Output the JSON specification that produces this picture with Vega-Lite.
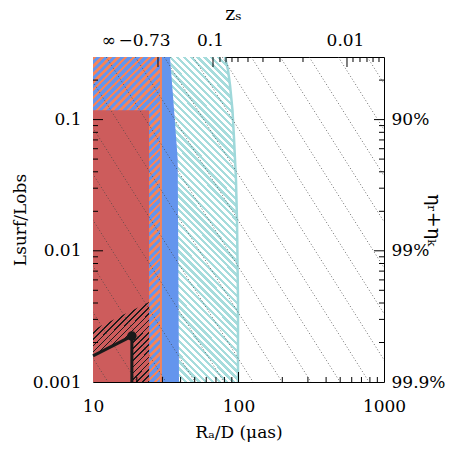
{
  "$schema": "https://vega.github.io/schema/vega-lite/v6.json",
  "width": 291,
  "height": 325,
  "autosize": {"type": "none"},
  "padding": {"left": 93, "top": 57, "right": 66, "bottom": 68},
  "background": "white",
  "config": {
    "view": {"stroke": null},
    "axis": {
      "domainColor": "#000", "domainWidth": 1, "tickColor": "#000", "tickWidth": 1,
      "labelColor": "#000", "titleColor": "#000",
      "labelFont": "DejaVu Serif", "titleFont": "DejaVu Serif",
      "labelFontSize": 17, "titleFontSize": 17, "titleFontWeight": "normal",
      "grid": false, "zindex": 1, "labelFlush": false, "labelOverlap": false, "labelBound": false
    }
  },
  "datasets": {
    "cyanEdge": [
      {"L": 0.3, "R": 80.8}, {"L": 0.2388, "R": 84.7}, {"L": 0.1835, "R": 87.4},
      {"L": 0.1184, "R": 90.9}, {"L": 0.0724, "R": 93.1}, {"L": 0.0346, "R": 96.1},
      {"L": 0.01658, "R": 97.7}, {"L": 0.00422, "R": 99.2}, {"L": 0.001, "R": 99.2}
    ],
    "blueEdge": [
      {"L": 0.3, "R": 33.8}, {"L": 0.15, "R": 35.5}, {"L": 0.05, "R": 38.2}, {"L": 0.001, "R": 39.0}
    ],
    "jetBox": [{"R1": 10, "R2": 29.3, "L1": 0.001, "L2": 0.3}],
    "diskBox": [{"R1": 10, "R2": 24.3, "L1": 0.001, "L2": 0.118}],
    "hatchBox": [
      {"R": 10, "Ltop": 0.00249, "Lbot": 0.00158},
      {"R": 18.5, "Ltop": 0.0035, "Lbot": 0.00224},
      {"R": 18.55, "Ltop": 0.00351, "Lbot": 0.001},
      {"R": 24.3, "Ltop": 0.00407, "Lbot": 0.001}
    ],
    "jetEdge": [{"R": 29.3}],
    "track": [
      {"o": 1, "R": 10, "L": 0.00158},
      {"o": 2, "R": 18.5, "L": 0.00224},
      {"o": 3, "R": 18.5, "L": 0.001}
    ],
    "source": [{"R": 18.5, "L": 0.00224}],
    "contours": [
      {"k": -6, "R": 12.68, "L": 0.001}, {"k": -6, "R": 0.497, "L": 0.3},
      {"k": -5, "R": 20.05, "L": 0.001}, {"k": -5, "R": 0.785, "L": 0.3},
      {"k": -4, "R": 31.77, "L": 0.001}, {"k": -4, "R": 1.245, "L": 0.3},
      {"k": -3, "R": 50.23, "L": 0.001}, {"k": -3, "R": 1.968, "L": 0.3},
      {"k": -2, "R": 79.43, "L": 0.001}, {"k": -2, "R": 3.112, "L": 0.3},
      {"k": -1, "R": 125.9, "L": 0.001}, {"k": -1, "R": 4.93, "L": 0.3},
      {"k": 0, "R": 199.1, "L": 0.001}, {"k": 0, "R": 7.8, "L": 0.3},
      {"k": 1, "R": 314.8, "L": 0.001}, {"k": 1, "R": 12.33, "L": 0.3},
      {"k": 2, "R": 498.9, "L": 0.001}, {"k": 2, "R": 19.54, "L": 0.3},
      {"k": 3, "R": 788.8, "L": 0.001}, {"k": 3, "R": 30.9, "L": 0.3},
      {"k": 4, "R": 1247, "L": 0.001}, {"k": 4, "R": 48.87, "L": 0.3},
      {"k": 5, "R": 1977, "L": 0.001}, {"k": 5, "R": 77.45, "L": 0.3},
      {"k": 6, "R": 3126, "L": 0.001}, {"k": 6, "R": 122.5, "L": 0.3},
      {"k": 7, "R": 4943, "L": 0.001}, {"k": 7, "R": 193.6, "L": 0.3},
      {"k": 8, "R": 7816, "L": 0.001}, {"k": 8, "R": 306.2, "L": 0.3},
      {"k": 9, "R": 12388, "L": 0.001}, {"k": 9, "R": 485.3, "L": 0.3},
      {"k": 10, "R": 19588, "L": 0.001}, {"k": 10, "R": 767.4, "L": 0.3}
    ],
    "rMajor": [{"R": 100}],
    "rMinor": [{"R": 20}, {"R": 30}, {"R": 40}, {"R": 50}, {"R": 60}, {"R": 70}, {"R": 80}, {"R": 90},
               {"R": 200}, {"R": 300}, {"R": 400}, {"R": 500}, {"R": 600}, {"R": 700}, {"R": 800}, {"R": 900}],
    "zMajor": [{"R": 27.97}, {"R": 66.8}, {"R": 556.8}],
    "zMinor": [{"R": 74.6}, {"R": 82.1}, {"R": 90.2}, {"R": 99.2}, {"R": 116.2}, {"R": 147.3}, {"R": 192.8},
               {"R": 277.5}, {"R": 612.2}, {"R": 683.9}, {"R": 764.1}, {"R": 840.5}, {"R": 923.8}],
    "lMajor": [{"L": 0.01}, {"L": 0.1}],
    "lMinor": [{"L": 0.002}, {"L": 0.003}, {"L": 0.004}, {"L": 0.005}, {"L": 0.006}, {"L": 0.007}, {"L": 0.008}, {"L": 0.009},
               {"L": 0.02}, {"L": 0.03}, {"L": 0.04}, {"L": 0.05}, {"L": 0.06}, {"L": 0.07}, {"L": 0.08}, {"L": 0.09},
               {"L": 0.2}]
  },
  "resolve": {"axis": {"x": "independent", "y": "independent"}},
  "layer": [
    {
      "data": {"name": "cyanEdge"},
      "mark": {
        "type": "area", "orient": "horizontal",
        "fill": {
          "gradient": "linear", "x1": 0, "y1": 1, "x2": 0.2424, "y2": -0.1586,
          "stops": [
            {"offset":0,"color":"#a6dcdc"},{"offset":0.0085,"color":"#a6dcdc"},{"offset":0.0085,"color":"#fff"},{"offset":0.0175,"color":"#fff"},
            {"offset":0.0175,"color":"#a6dcdc"},{"offset":0.026,"color":"#a6dcdc"},{"offset":0.026,"color":"#fff"},{"offset":0.035,"color":"#fff"},
            {"offset":0.035,"color":"#a6dcdc"},{"offset":0.0435,"color":"#a6dcdc"},{"offset":0.0435,"color":"#fff"},{"offset":0.0525,"color":"#fff"},
            {"offset":0.0525,"color":"#a6dcdc"},{"offset":0.061,"color":"#a6dcdc"},{"offset":0.061,"color":"#fff"},{"offset":0.07,"color":"#fff"},
            {"offset":0.07,"color":"#a6dcdc"},{"offset":0.0785,"color":"#a6dcdc"},{"offset":0.0785,"color":"#fff"},{"offset":0.0875,"color":"#fff"},
            {"offset":0.0875,"color":"#a6dcdc"},{"offset":0.096,"color":"#a6dcdc"},{"offset":0.096,"color":"#fff"},{"offset":0.105,"color":"#fff"},
            {"offset":0.105,"color":"#a6dcdc"},{"offset":0.1135,"color":"#a6dcdc"},{"offset":0.1135,"color":"#fff"},{"offset":0.1225,"color":"#fff"},
            {"offset":0.1225,"color":"#a6dcdc"},{"offset":0.131,"color":"#a6dcdc"},{"offset":0.131,"color":"#fff"},{"offset":0.14,"color":"#fff"},
            {"offset":0.14,"color":"#a6dcdc"},{"offset":0.1485,"color":"#a6dcdc"},{"offset":0.1485,"color":"#fff"},{"offset":0.1575,"color":"#fff"},
            {"offset":0.1575,"color":"#a6dcdc"},{"offset":0.166,"color":"#a6dcdc"},{"offset":0.166,"color":"#fff"},{"offset":0.175,"color":"#fff"},
            {"offset":0.175,"color":"#a6dcdc"},{"offset":0.1835,"color":"#a6dcdc"},{"offset":0.1835,"color":"#fff"},{"offset":0.1925,"color":"#fff"},
            {"offset":0.1925,"color":"#a6dcdc"},{"offset":0.201,"color":"#a6dcdc"},{"offset":0.201,"color":"#fff"},{"offset":0.21,"color":"#fff"},
            {"offset":0.21,"color":"#a6dcdc"},{"offset":0.2185,"color":"#a6dcdc"},{"offset":0.2185,"color":"#fff"},{"offset":0.2275,"color":"#fff"},
            {"offset":0.2275,"color":"#a6dcdc"},{"offset":0.236,"color":"#a6dcdc"},{"offset":0.236,"color":"#fff"},{"offset":0.245,"color":"#fff"},
            {"offset":0.245,"color":"#a6dcdc"},{"offset":0.2535,"color":"#a6dcdc"},{"offset":0.2535,"color":"#fff"},{"offset":0.2625,"color":"#fff"},
            {"offset":0.2625,"color":"#a6dcdc"},{"offset":0.271,"color":"#a6dcdc"},{"offset":0.271,"color":"#fff"},{"offset":0.28,"color":"#fff"},
            {"offset":0.28,"color":"#a6dcdc"},{"offset":0.2885,"color":"#a6dcdc"},{"offset":0.2885,"color":"#fff"},{"offset":0.2975,"color":"#fff"},
            {"offset":0.2975,"color":"#a6dcdc"},{"offset":0.306,"color":"#a6dcdc"},{"offset":0.306,"color":"#fff"},{"offset":0.315,"color":"#fff"},
            {"offset":0.315,"color":"#a6dcdc"},{"offset":0.3235,"color":"#a6dcdc"},{"offset":0.3235,"color":"#fff"},{"offset":0.3325,"color":"#fff"},
            {"offset":0.3325,"color":"#a6dcdc"},{"offset":0.341,"color":"#a6dcdc"},{"offset":0.341,"color":"#fff"},{"offset":0.35,"color":"#fff"},
            {"offset":0.35,"color":"#a6dcdc"},{"offset":0.3585,"color":"#a6dcdc"},{"offset":0.3585,"color":"#fff"},{"offset":0.3675,"color":"#fff"},
            {"offset":0.3675,"color":"#a6dcdc"},{"offset":0.376,"color":"#a6dcdc"},{"offset":0.376,"color":"#fff"},{"offset":0.385,"color":"#fff"},
            {"offset":0.385,"color":"#a6dcdc"},{"offset":0.3935,"color":"#a6dcdc"},{"offset":0.3935,"color":"#fff"},{"offset":0.4025,"color":"#fff"},
            {"offset":0.4025,"color":"#a6dcdc"},{"offset":0.411,"color":"#a6dcdc"},{"offset":0.411,"color":"#fff"},{"offset":0.42,"color":"#fff"},
            {"offset":0.42,"color":"#a6dcdc"},{"offset":0.4285,"color":"#a6dcdc"},{"offset":0.4285,"color":"#fff"},{"offset":0.4375,"color":"#fff"},
            {"offset":0.4375,"color":"#a6dcdc"},{"offset":0.446,"color":"#a6dcdc"},{"offset":0.446,"color":"#fff"},{"offset":0.455,"color":"#fff"},
            {"offset":0.455,"color":"#a6dcdc"},{"offset":0.4635,"color":"#a6dcdc"},{"offset":0.4635,"color":"#fff"},{"offset":0.4725,"color":"#fff"},
            {"offset":0.4725,"color":"#a6dcdc"},{"offset":0.481,"color":"#a6dcdc"},{"offset":0.481,"color":"#fff"},{"offset":0.49,"color":"#fff"},
            {"offset":0.49,"color":"#a6dcdc"},{"offset":0.4985,"color":"#a6dcdc"},{"offset":0.4985,"color":"#fff"},{"offset":0.5075,"color":"#fff"},
            {"offset":0.5075,"color":"#a6dcdc"},{"offset":0.516,"color":"#a6dcdc"},{"offset":0.516,"color":"#fff"},{"offset":0.525,"color":"#fff"},
            {"offset":0.525,"color":"#a6dcdc"},{"offset":0.5335,"color":"#a6dcdc"},{"offset":0.5335,"color":"#fff"},{"offset":0.5425,"color":"#fff"},
            {"offset":0.5425,"color":"#a6dcdc"},{"offset":0.551,"color":"#a6dcdc"},{"offset":0.551,"color":"#fff"},{"offset":0.56,"color":"#fff"},
            {"offset":0.56,"color":"#a6dcdc"},{"offset":0.5685,"color":"#a6dcdc"},{"offset":0.5685,"color":"#fff"},{"offset":0.5775,"color":"#fff"},
            {"offset":0.5775,"color":"#a6dcdc"},{"offset":0.586,"color":"#a6dcdc"},{"offset":0.586,"color":"#fff"},{"offset":0.595,"color":"#fff"},
            {"offset":0.595,"color":"#a6dcdc"},{"offset":0.6035,"color":"#a6dcdc"},{"offset":0.6035,"color":"#fff"},{"offset":0.6125,"color":"#fff"},
            {"offset":0.6125,"color":"#a6dcdc"},{"offset":0.621,"color":"#a6dcdc"},{"offset":0.621,"color":"#fff"},{"offset":0.63,"color":"#fff"},
            {"offset":0.63,"color":"#a6dcdc"},{"offset":0.6385,"color":"#a6dcdc"},{"offset":0.6385,"color":"#fff"},{"offset":0.6475,"color":"#fff"},
            {"offset":0.6475,"color":"#a6dcdc"},{"offset":0.656,"color":"#a6dcdc"},{"offset":0.656,"color":"#fff"},{"offset":0.665,"color":"#fff"},
            {"offset":0.665,"color":"#a6dcdc"},{"offset":0.6735,"color":"#a6dcdc"},{"offset":0.6735,"color":"#fff"},{"offset":0.6825,"color":"#fff"},
            {"offset":0.6825,"color":"#a6dcdc"},{"offset":0.691,"color":"#a6dcdc"},{"offset":0.691,"color":"#fff"},{"offset":0.7,"color":"#fff"},
            {"offset":0.7,"color":"#a6dcdc"},{"offset":0.7085,"color":"#a6dcdc"},{"offset":0.7085,"color":"#fff"},{"offset":0.7175,"color":"#fff"},
            {"offset":0.7175,"color":"#a6dcdc"},{"offset":0.726,"color":"#a6dcdc"},{"offset":0.726,"color":"#fff"},{"offset":0.735,"color":"#fff"},
            {"offset":0.735,"color":"#a6dcdc"},{"offset":0.7435,"color":"#a6dcdc"},{"offset":0.7435,"color":"#fff"},{"offset":0.7525,"color":"#fff"},
            {"offset":0.7525,"color":"#a6dcdc"},{"offset":0.761,"color":"#a6dcdc"},{"offset":0.761,"color":"#fff"},{"offset":0.77,"color":"#fff"},
            {"offset":0.77,"color":"#a6dcdc"},{"offset":0.7785,"color":"#a6dcdc"},{"offset":0.7785,"color":"#fff"},{"offset":0.7875,"color":"#fff"},
            {"offset":0.7875,"color":"#a6dcdc"},{"offset":0.796,"color":"#a6dcdc"},{"offset":0.796,"color":"#fff"},{"offset":0.805,"color":"#fff"},
            {"offset":0.805,"color":"#a6dcdc"},{"offset":0.8135,"color":"#a6dcdc"},{"offset":0.8135,"color":"#fff"},{"offset":0.8225,"color":"#fff"},
            {"offset":0.8225,"color":"#a6dcdc"},{"offset":0.831,"color":"#a6dcdc"},{"offset":0.831,"color":"#fff"},{"offset":0.84,"color":"#fff"},
            {"offset":0.84,"color":"#a6dcdc"},{"offset":0.8485,"color":"#a6dcdc"},{"offset":0.8485,"color":"#fff"},{"offset":0.8575,"color":"#fff"},
            {"offset":0.8575,"color":"#a6dcdc"},{"offset":0.866,"color":"#a6dcdc"},{"offset":0.866,"color":"#fff"},{"offset":0.875,"color":"#fff"},
            {"offset":0.875,"color":"#a6dcdc"},{"offset":0.8835,"color":"#a6dcdc"},{"offset":0.8835,"color":"#fff"},{"offset":0.8925,"color":"#fff"},
            {"offset":0.8925,"color":"#a6dcdc"},{"offset":0.901,"color":"#a6dcdc"},{"offset":0.901,"color":"#fff"},{"offset":0.91,"color":"#fff"},
            {"offset":0.91,"color":"#a6dcdc"},{"offset":0.9185,"color":"#a6dcdc"},{"offset":0.9185,"color":"#fff"},{"offset":0.9275,"color":"#fff"},
            {"offset":0.9275,"color":"#a6dcdc"},{"offset":0.936,"color":"#a6dcdc"},{"offset":0.936,"color":"#fff"},{"offset":0.945,"color":"#fff"},
            {"offset":0.945,"color":"#a6dcdc"},{"offset":0.9535,"color":"#a6dcdc"},{"offset":0.9535,"color":"#fff"},{"offset":0.9625,"color":"#fff"},
            {"offset":0.9625,"color":"#a6dcdc"},{"offset":0.971,"color":"#a6dcdc"},{"offset":0.971,"color":"#fff"},{"offset":0.98,"color":"#fff"},
            {"offset":0.98,"color":"#a6dcdc"},{"offset":0.9885,"color":"#a6dcdc"},{"offset":0.9885,"color":"#fff"},{"offset":0.9975,"color":"#fff"},
            {"offset":0.9975,"color":"#a6dcdc"},{"offset":1,"color":"#a6dcdc"}
          ]
        }
      },
      "encoding": {
        "y": {"field": "L", "type": "quantitative", "scale": {"type": "log", "domain": [0.001, 0.3], "nice": false},
              "axis": {"orient": "left", "values": [0.001, 0.01, 0.1], "format": "~g", "ticks": false, "labelPadding": 12,
                       "title": "Lsurf/Lobs", "titleX": -73, "titleY": 162.5, "titleAngle": 270, "titleBaseline": "middle", "titleAlign": "center"}},
        "x": {"field": "R", "type": "quantitative", "scale": {"type": "log", "domain": [10, 1000], "nice": false},
              "axis": {"orient": "bottom", "values": [10, 100, 1000], "format": "d", "ticks": false, "labelPadding": 16,
                       "title": "Rₐ/D (μas)", "titleX": 145.5, "titleY": 50, "titleBaseline": "middle", "titleAlign": "center"}},
        "x2": {"datum": 34}
      }
    },
    {
      "data": {"name": "blueEdge"},
      "mark": {"type": "area", "orient": "horizontal", "color": "#6495ed"},
      "encoding": {
        "y": {"field": "L", "type": "quantitative", "scale": {"type": "log", "domain": [0.001, 0.3], "nice": false}, "axis": null},
        "x": {"field": "R", "type": "quantitative", "scale": {"type": "log", "domain": [10, 1000], "nice": false}, "axis": null},
        "x2": {"datum": 10}
      }
    },
    {
      "data": {"name": "jetBox"},
      "mark": {
        "type": "rect",
        "fill": {
          "gradient": "linear", "x1": 0, "y1": 0, "x2": 0.242, "y2": 1.1584,
          "stops": [
            {"offset":0,"color":"#f5845a"},{"offset":0.009,"color":"#f5845a"},{"offset":0.009,"color":"#6495ed"},{"offset":0.02,"color":"#6495ed"},
            {"offset":0.02,"color":"#f5845a"},{"offset":0.029,"color":"#f5845a"},{"offset":0.029,"color":"#6495ed"},{"offset":0.04,"color":"#6495ed"},
            {"offset":0.04,"color":"#f5845a"},{"offset":0.049,"color":"#f5845a"},{"offset":0.049,"color":"#6495ed"},{"offset":0.06,"color":"#6495ed"},
            {"offset":0.06,"color":"#f5845a"},{"offset":0.069,"color":"#f5845a"},{"offset":0.069,"color":"#6495ed"},{"offset":0.08,"color":"#6495ed"},
            {"offset":0.08,"color":"#f5845a"},{"offset":0.089,"color":"#f5845a"},{"offset":0.089,"color":"#6495ed"},{"offset":0.1,"color":"#6495ed"},
            {"offset":0.1,"color":"#f5845a"},{"offset":0.109,"color":"#f5845a"},{"offset":0.109,"color":"#6495ed"},{"offset":0.12,"color":"#6495ed"},
            {"offset":0.12,"color":"#f5845a"},{"offset":0.129,"color":"#f5845a"},{"offset":0.129,"color":"#6495ed"},{"offset":0.14,"color":"#6495ed"},
            {"offset":0.14,"color":"#f5845a"},{"offset":0.149,"color":"#f5845a"},{"offset":0.149,"color":"#6495ed"},{"offset":0.16,"color":"#6495ed"},
            {"offset":0.16,"color":"#f5845a"},{"offset":0.169,"color":"#f5845a"},{"offset":0.169,"color":"#6495ed"},{"offset":0.18,"color":"#6495ed"},
            {"offset":0.18,"color":"#f5845a"},{"offset":0.189,"color":"#f5845a"},{"offset":0.189,"color":"#6495ed"},{"offset":0.2,"color":"#6495ed"},
            {"offset":0.2,"color":"#f5845a"},{"offset":0.209,"color":"#f5845a"},{"offset":0.209,"color":"#6495ed"},{"offset":0.22,"color":"#6495ed"},
            {"offset":0.22,"color":"#f5845a"},{"offset":0.229,"color":"#f5845a"},{"offset":0.229,"color":"#6495ed"},{"offset":0.24,"color":"#6495ed"},
            {"offset":0.24,"color":"#f5845a"},{"offset":0.249,"color":"#f5845a"},{"offset":0.249,"color":"#6495ed"},{"offset":0.26,"color":"#6495ed"},
            {"offset":0.26,"color":"#f5845a"},{"offset":0.269,"color":"#f5845a"},{"offset":0.269,"color":"#6495ed"},{"offset":0.28,"color":"#6495ed"},
            {"offset":0.28,"color":"#f5845a"},{"offset":0.289,"color":"#f5845a"},{"offset":0.289,"color":"#6495ed"},{"offset":0.3,"color":"#6495ed"},
            {"offset":0.3,"color":"#f5845a"},{"offset":0.309,"color":"#f5845a"},{"offset":0.309,"color":"#6495ed"},{"offset":0.32,"color":"#6495ed"},
            {"offset":0.32,"color":"#f5845a"},{"offset":0.329,"color":"#f5845a"},{"offset":0.329,"color":"#6495ed"},{"offset":0.34,"color":"#6495ed"},
            {"offset":0.34,"color":"#f5845a"},{"offset":0.349,"color":"#f5845a"},{"offset":0.349,"color":"#6495ed"},{"offset":0.36,"color":"#6495ed"},
            {"offset":0.36,"color":"#f5845a"},{"offset":0.369,"color":"#f5845a"},{"offset":0.369,"color":"#6495ed"},{"offset":0.38,"color":"#6495ed"},
            {"offset":0.38,"color":"#f5845a"},{"offset":0.389,"color":"#f5845a"},{"offset":0.389,"color":"#6495ed"},{"offset":0.4,"color":"#6495ed"},
            {"offset":0.4,"color":"#f5845a"},{"offset":0.409,"color":"#f5845a"},{"offset":0.409,"color":"#6495ed"},{"offset":0.42,"color":"#6495ed"},
            {"offset":0.42,"color":"#f5845a"},{"offset":0.429,"color":"#f5845a"},{"offset":0.429,"color":"#6495ed"},{"offset":0.44,"color":"#6495ed"},
            {"offset":0.44,"color":"#f5845a"},{"offset":0.449,"color":"#f5845a"},{"offset":0.449,"color":"#6495ed"},{"offset":0.46,"color":"#6495ed"},
            {"offset":0.46,"color":"#f5845a"},{"offset":0.469,"color":"#f5845a"},{"offset":0.469,"color":"#6495ed"},{"offset":0.48,"color":"#6495ed"},
            {"offset":0.48,"color":"#f5845a"},{"offset":0.489,"color":"#f5845a"},{"offset":0.489,"color":"#6495ed"},{"offset":0.5,"color":"#6495ed"},
            {"offset":0.5,"color":"#f5845a"},{"offset":0.509,"color":"#f5845a"},{"offset":0.509,"color":"#6495ed"},{"offset":0.52,"color":"#6495ed"},
            {"offset":0.52,"color":"#f5845a"},{"offset":0.529,"color":"#f5845a"},{"offset":0.529,"color":"#6495ed"},{"offset":0.54,"color":"#6495ed"},
            {"offset":0.54,"color":"#f5845a"},{"offset":0.549,"color":"#f5845a"},{"offset":0.549,"color":"#6495ed"},{"offset":0.56,"color":"#6495ed"},
            {"offset":0.56,"color":"#f5845a"},{"offset":0.569,"color":"#f5845a"},{"offset":0.569,"color":"#6495ed"},{"offset":0.58,"color":"#6495ed"},
            {"offset":0.58,"color":"#f5845a"},{"offset":0.589,"color":"#f5845a"},{"offset":0.589,"color":"#6495ed"},{"offset":0.6,"color":"#6495ed"},
            {"offset":0.6,"color":"#f5845a"},{"offset":0.609,"color":"#f5845a"},{"offset":0.609,"color":"#6495ed"},{"offset":0.62,"color":"#6495ed"},
            {"offset":0.62,"color":"#f5845a"},{"offset":0.629,"color":"#f5845a"},{"offset":0.629,"color":"#6495ed"},{"offset":0.64,"color":"#6495ed"},
            {"offset":0.64,"color":"#f5845a"},{"offset":0.649,"color":"#f5845a"},{"offset":0.649,"color":"#6495ed"},{"offset":0.66,"color":"#6495ed"},
            {"offset":0.66,"color":"#f5845a"},{"offset":0.669,"color":"#f5845a"},{"offset":0.669,"color":"#6495ed"},{"offset":0.68,"color":"#6495ed"},
            {"offset":0.68,"color":"#f5845a"},{"offset":0.689,"color":"#f5845a"},{"offset":0.689,"color":"#6495ed"},{"offset":0.7,"color":"#6495ed"},
            {"offset":0.7,"color":"#f5845a"},{"offset":0.709,"color":"#f5845a"},{"offset":0.709,"color":"#6495ed"},{"offset":0.72,"color":"#6495ed"},
            {"offset":0.72,"color":"#f5845a"},{"offset":0.729,"color":"#f5845a"},{"offset":0.729,"color":"#6495ed"},{"offset":0.74,"color":"#6495ed"},
            {"offset":0.74,"color":"#f5845a"},{"offset":0.749,"color":"#f5845a"},{"offset":0.749,"color":"#6495ed"},{"offset":0.76,"color":"#6495ed"},
            {"offset":0.76,"color":"#f5845a"},{"offset":0.769,"color":"#f5845a"},{"offset":0.769,"color":"#6495ed"},{"offset":0.78,"color":"#6495ed"},
            {"offset":0.78,"color":"#f5845a"},{"offset":0.789,"color":"#f5845a"},{"offset":0.789,"color":"#6495ed"},{"offset":0.8,"color":"#6495ed"},
            {"offset":0.8,"color":"#f5845a"},{"offset":0.809,"color":"#f5845a"},{"offset":0.809,"color":"#6495ed"},{"offset":0.82,"color":"#6495ed"},
            {"offset":0.82,"color":"#f5845a"},{"offset":0.829,"color":"#f5845a"},{"offset":0.829,"color":"#6495ed"},{"offset":0.84,"color":"#6495ed"},
            {"offset":0.84,"color":"#f5845a"},{"offset":0.849,"color":"#f5845a"},{"offset":0.849,"color":"#6495ed"},{"offset":0.86,"color":"#6495ed"},
            {"offset":0.86,"color":"#f5845a"},{"offset":0.869,"color":"#f5845a"},{"offset":0.869,"color":"#6495ed"},{"offset":0.88,"color":"#6495ed"},
            {"offset":0.88,"color":"#f5845a"},{"offset":0.889,"color":"#f5845a"},{"offset":0.889,"color":"#6495ed"},{"offset":0.9,"color":"#6495ed"},
            {"offset":0.9,"color":"#f5845a"},{"offset":0.909,"color":"#f5845a"},{"offset":0.909,"color":"#6495ed"},{"offset":0.92,"color":"#6495ed"},
            {"offset":0.92,"color":"#f5845a"},{"offset":0.929,"color":"#f5845a"},{"offset":0.929,"color":"#6495ed"},{"offset":0.94,"color":"#6495ed"},
            {"offset":0.94,"color":"#f5845a"},{"offset":0.949,"color":"#f5845a"},{"offset":0.949,"color":"#6495ed"},{"offset":0.96,"color":"#6495ed"},
            {"offset":0.96,"color":"#f5845a"},{"offset":0.969,"color":"#f5845a"},{"offset":0.969,"color":"#6495ed"},{"offset":0.98,"color":"#6495ed"},
            {"offset":0.98,"color":"#f5845a"},{"offset":0.989,"color":"#f5845a"},{"offset":0.989,"color":"#6495ed"},{"offset":1,"color":"#6495ed"}
          ]
        }
      },
      "encoding": {
        "x": {"field": "R1", "type": "quantitative", "scale": {"type": "log", "domain": [10, 1000], "nice": false},
              "axis": {"orient": "top", "values": [12.68, 22.4, 63.7, 539.5],
                       "labelExpr": "datum.value < 15 ? '∞' : datum.value < 30 ? '−0.73' : datum.value < 100 ? '0.1' : '0.01'",
                       "ticks": false, "labelPadding": 8, "title": "zₛ", "titleFontSize": 19, "titleX": 140, "titleY": -44, "titleBaseline": "middle", "titleAlign": "center"}},
        "x2": {"field": "R2"},
        "y": {"field": "L1", "type": "quantitative", "scale": {"type": "log", "domain": [0.001, 0.3], "nice": false},
              "axis": {"orient": "right", "values": [0.001, 0.01, 0.1],
                       "labelExpr": "datum.value > 0.05 ? '90%' : datum.value > 0.005 ? '99%' : '99.9%'",
                       "ticks": false, "labelPadding": 7, "title": "ηᵣ+ηₖ", "titleFontSize": 19, "titleX": 49, "titleY": 162.5, "titleAngle": 90, "titleBaseline": "middle", "titleAlign": "center"}},
        "y2": {"field": "L2"}
      }
    },
    {
      "data": {"name": "diskBox"},
      "mark": {"type": "rect", "color": "#cd5c5c"},
      "encoding": {
        "x": {"field": "R1", "type": "quantitative", "scale": {"type": "log", "domain": [10, 1000], "nice": false}, "axis": null},
        "x2": {"field": "R2"},
        "y": {"field": "L1", "type": "quantitative", "scale": {"type": "log", "domain": [0.001, 0.3], "nice": false}, "axis": null},
        "y2": {"field": "L2"}
      }
    },
    {
      "data": {"name": "hatchBox"},
      "mark": {
        "type": "area",
        "fill": {
          "gradient": "linear", "x1": 0, "y1": 0, "x2": 0.8093, "y2": 1.1358,
          "stops": [
            {"offset":0,"color":"#1a1a1a"},{"offset":0.012,"color":"#1a1a1a"},{"offset":0.012,"color":"#cd5c5c"},{"offset":0.045,"color":"#cd5c5c"},
            {"offset":0.045,"color":"#1a1a1a"},{"offset":0.057,"color":"#1a1a1a"},{"offset":0.057,"color":"#cd5c5c"},{"offset":0.09,"color":"#cd5c5c"},
            {"offset":0.09,"color":"#1a1a1a"},{"offset":0.102,"color":"#1a1a1a"},{"offset":0.102,"color":"#cd5c5c"},{"offset":0.135,"color":"#cd5c5c"},
            {"offset":0.135,"color":"#1a1a1a"},{"offset":0.147,"color":"#1a1a1a"},{"offset":0.147,"color":"#cd5c5c"},{"offset":0.18,"color":"#cd5c5c"},
            {"offset":0.18,"color":"#1a1a1a"},{"offset":0.192,"color":"#1a1a1a"},{"offset":0.192,"color":"#cd5c5c"},{"offset":0.225,"color":"#cd5c5c"},
            {"offset":0.225,"color":"#1a1a1a"},{"offset":0.237,"color":"#1a1a1a"},{"offset":0.237,"color":"#cd5c5c"},{"offset":0.27,"color":"#cd5c5c"},
            {"offset":0.27,"color":"#1a1a1a"},{"offset":0.282,"color":"#1a1a1a"},{"offset":0.282,"color":"#cd5c5c"},{"offset":0.315,"color":"#cd5c5c"},
            {"offset":0.315,"color":"#1a1a1a"},{"offset":0.327,"color":"#1a1a1a"},{"offset":0.327,"color":"#cd5c5c"},{"offset":0.36,"color":"#cd5c5c"},
            {"offset":0.36,"color":"#1a1a1a"},{"offset":0.372,"color":"#1a1a1a"},{"offset":0.372,"color":"#cd5c5c"},{"offset":0.405,"color":"#cd5c5c"},
            {"offset":0.405,"color":"#1a1a1a"},{"offset":0.417,"color":"#1a1a1a"},{"offset":0.417,"color":"#cd5c5c"},{"offset":0.45,"color":"#cd5c5c"},
            {"offset":0.45,"color":"#1a1a1a"},{"offset":0.462,"color":"#1a1a1a"},{"offset":0.462,"color":"#cd5c5c"},{"offset":0.495,"color":"#cd5c5c"},
            {"offset":0.495,"color":"#1a1a1a"},{"offset":0.507,"color":"#1a1a1a"},{"offset":0.507,"color":"#cd5c5c"},{"offset":0.54,"color":"#cd5c5c"},
            {"offset":0.54,"color":"#1a1a1a"},{"offset":0.552,"color":"#1a1a1a"},{"offset":0.552,"color":"#cd5c5c"},{"offset":0.585,"color":"#cd5c5c"},
            {"offset":0.585,"color":"#1a1a1a"},{"offset":0.597,"color":"#1a1a1a"},{"offset":0.597,"color":"#cd5c5c"},{"offset":0.63,"color":"#cd5c5c"},
            {"offset":0.63,"color":"#1a1a1a"},{"offset":0.642,"color":"#1a1a1a"},{"offset":0.642,"color":"#cd5c5c"},{"offset":0.675,"color":"#cd5c5c"},
            {"offset":0.675,"color":"#1a1a1a"},{"offset":0.687,"color":"#1a1a1a"},{"offset":0.687,"color":"#cd5c5c"},{"offset":0.72,"color":"#cd5c5c"},
            {"offset":0.72,"color":"#1a1a1a"},{"offset":0.732,"color":"#1a1a1a"},{"offset":0.732,"color":"#cd5c5c"},{"offset":0.765,"color":"#cd5c5c"},
            {"offset":0.765,"color":"#1a1a1a"},{"offset":0.777,"color":"#1a1a1a"},{"offset":0.777,"color":"#cd5c5c"},{"offset":0.81,"color":"#cd5c5c"},
            {"offset":0.81,"color":"#1a1a1a"},{"offset":0.822,"color":"#1a1a1a"},{"offset":0.822,"color":"#cd5c5c"},{"offset":0.855,"color":"#cd5c5c"},
            {"offset":0.855,"color":"#1a1a1a"},{"offset":0.867,"color":"#1a1a1a"},{"offset":0.867,"color":"#cd5c5c"},{"offset":0.9,"color":"#cd5c5c"},
            {"offset":0.9,"color":"#1a1a1a"},{"offset":0.912,"color":"#1a1a1a"},{"offset":0.912,"color":"#cd5c5c"},{"offset":0.945,"color":"#cd5c5c"},
            {"offset":0.945,"color":"#1a1a1a"},{"offset":0.957,"color":"#1a1a1a"},{"offset":0.957,"color":"#cd5c5c"},{"offset":0.99,"color":"#cd5c5c"},
            {"offset":0.99,"color":"#1a1a1a"},{"offset":1,"color":"#1a1a1a"}
          ]
        }
      },
      "encoding": {
        "x": {"field": "R", "type": "quantitative", "scale": {"type": "log", "domain": [10, 1000], "nice": false}, "axis": null},
        "y": {"field": "Ltop", "type": "quantitative", "scale": {"type": "log", "domain": [0.001, 0.3], "nice": false}, "axis": null},
        "y2": {"field": "Lbot"}
      }
    },
    {
      "data": {"name": "jetEdge"},
      "mark": {"type": "rule", "color": "#f5845a", "strokeWidth": 2},
      "encoding": {
        "x": {"field": "R", "type": "quantitative", "scale": {"type": "log", "domain": [10, 1000], "nice": false}, "axis": null}
      }
    },
    {
      "data": {"name": "cyanEdge"},
      "mark": {"type": "line", "color": "#9fd8da", "strokeWidth": 2.5},
      "encoding": {
        "x": {"field": "R", "type": "quantitative", "scale": {"type": "log", "domain": [10, 1000], "nice": false}, "axis": null},
        "y": {"field": "L", "type": "quantitative", "scale": {"type": "log", "domain": [0.001, 0.3], "nice": false}, "axis": null},
        "order": {"field": "L", "type": "quantitative"}
      }
    },
    {
      "data": {"name": "contours"},
      "mark": {"type": "line", "clip": true, "color": "#444", "opacity": 0.75, "strokeWidth": 1, "strokeDash": [1, 2.2]},
      "encoding": {
        "x": {"field": "R", "type": "quantitative", "scale": {"type": "log", "domain": [10, 1000], "nice": false}, "axis": null},
        "y": {"field": "L", "type": "quantitative", "scale": {"type": "log", "domain": [0.001, 0.3], "nice": false}, "axis": null},
        "detail": {"field": "k", "type": "nominal"}
      }
    },
    {
      "data": {"name": "track"},
      "mark": {"type": "line", "color": "#1a1a1a", "strokeWidth": 3},
      "encoding": {
        "x": {"field": "R", "type": "quantitative", "scale": {"type": "log", "domain": [10, 1000], "nice": false}, "axis": null},
        "y": {"field": "L", "type": "quantitative", "scale": {"type": "log", "domain": [0.001, 0.3], "nice": false}, "axis": null},
        "order": {"field": "o", "type": "quantitative"}
      }
    },
    {
      "data": {"name": "source"},
      "mark": {"type": "circle", "color": "#1a1a1a", "opacity": 1, "size": 90},
      "encoding": {
        "x": {"field": "R", "type": "quantitative", "scale": {"type": "log", "domain": [10, 1000], "nice": false}, "axis": null},
        "y": {"field": "L", "type": "quantitative", "scale": {"type": "log", "domain": [0.001, 0.3], "nice": false}, "axis": null}
      }
    },
    {
      "data": {"name": "rMajor"},
      "mark": {"type": "rule", "color": "#000", "strokeWidth": 1, "strokeDash": [10, 1000]},
      "encoding": {
        "x": {"field": "R", "type": "quantitative", "scale": {"type": "log", "domain": [10, 1000], "nice": false}, "axis": null},
        "y": {"datum": 0.001, "type": "quantitative", "scale": {"type": "log", "domain": [0.001, 0.3], "nice": false}, "axis": null},
        "y2": {"datum": 0.3}
      }
    },
    {
      "data": {"name": "rMinor"},
      "mark": {"type": "rule", "color": "#000", "strokeWidth": 1, "strokeDash": [5, 1000]},
      "encoding": {
        "x": {"field": "R", "type": "quantitative", "scale": {"type": "log", "domain": [10, 1000], "nice": false}, "axis": null},
        "y": {"datum": 0.001, "type": "quantitative", "scale": {"type": "log", "domain": [0.001, 0.3], "nice": false}, "axis": null},
        "y2": {"datum": 0.3}
      }
    },
    {
      "data": {"name": "zMajor"},
      "mark": {"type": "rule", "color": "#000", "strokeWidth": 1, "strokeDash": [0, 315, 10, 10]},
      "encoding": {
        "x": {"field": "R", "type": "quantitative", "scale": {"type": "log", "domain": [10, 1000], "nice": false}, "axis": null},
        "y": {"datum": 0.001, "type": "quantitative", "scale": {"type": "log", "domain": [0.001, 0.3], "nice": false}, "axis": null},
        "y2": {"datum": 0.3}
      }
    },
    {
      "data": {"name": "zMinor"},
      "mark": {"type": "rule", "color": "#000", "strokeWidth": 1, "strokeDash": [0, 320, 5, 10]},
      "encoding": {
        "x": {"field": "R", "type": "quantitative", "scale": {"type": "log", "domain": [10, 1000], "nice": false}, "axis": null},
        "y": {"datum": 0.001, "type": "quantitative", "scale": {"type": "log", "domain": [0.001, 0.3], "nice": false}, "axis": null},
        "y2": {"datum": 0.3}
      }
    },
    {
      "data": {"name": "lMajor"},
      "mark": {"type": "rule", "color": "#000", "strokeWidth": 1, "strokeDash": [10, 271, 10, 10]},
      "encoding": {
        "y": {"field": "L", "type": "quantitative", "scale": {"type": "log", "domain": [0.001, 0.3], "nice": false}, "axis": null},
        "x": {"datum": 10, "type": "quantitative", "scale": {"type": "log", "domain": [10, 1000], "nice": false}, "axis": null},
        "x2": {"datum": 1000}
      }
    },
    {
      "data": {"name": "lMinor"},
      "mark": {"type": "rule", "color": "#000", "strokeWidth": 1, "strokeDash": [5, 281, 5, 10]},
      "encoding": {
        "y": {"field": "L", "type": "quantitative", "scale": {"type": "log", "domain": [0.001, 0.3], "nice": false}, "axis": null},
        "x": {"datum": 10, "type": "quantitative", "scale": {"type": "log", "domain": [10, 1000], "nice": false}, "axis": null},
        "x2": {"datum": 1000}
      }
    }
  ]
}
